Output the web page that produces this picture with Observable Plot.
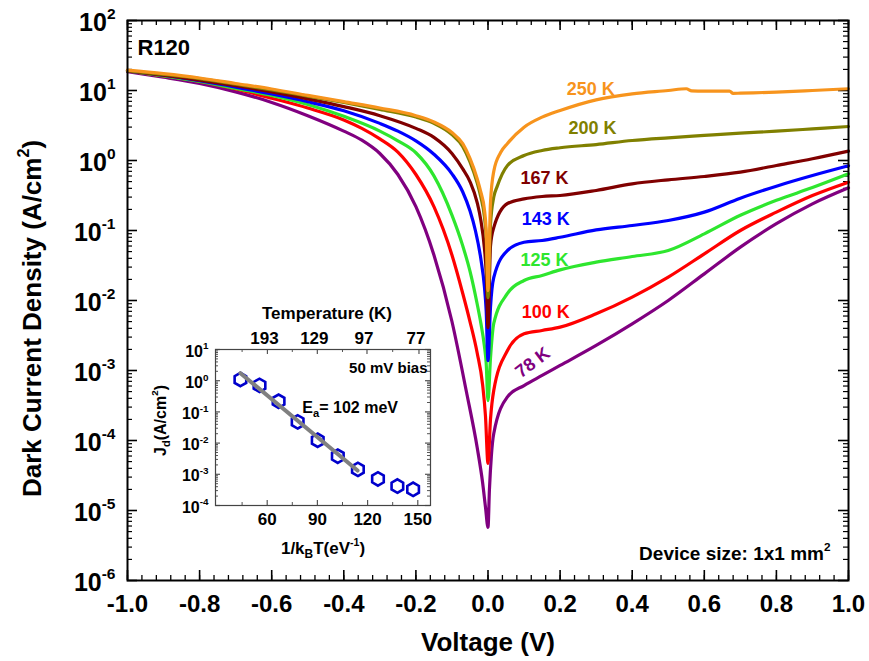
<!DOCTYPE html>
<html>
<head>
<meta charset="utf-8">
<script src="https://cdn.jsdelivr.net/npm/d3@7"></script>
<script src="https://cdn.jsdelivr.net/npm/@observablehq/plot@0.6"></script>
<style>
  body { margin: 0; background: #fff; }
  #wrap { position: relative; width: 869px; height: 661px; overflow: hidden; }
  #inset { position: absolute; left: 140px; top: 290px; }
</style>
</head>
<body>
<div id="wrap"><div id="main"></div><div id="inset"></div></div>
<script>
// ---------------- data ----------------
const seriesNames = ["78 K", "100 K", "125 K", "143 K", "167 K", "200 K", "250 K"];
const seriesColors = ["#800080", "#FF0000", "#2EE62E", "#0000FF", "#800000", "#808000", "#F7941D"];

const V78 = [-1.0, -0.9, -0.8, -0.7, -0.6, -0.5, -0.4, -0.35, -0.3, -0.25, -0.2, -0.15, -0.1, -0.06, -0.03, -0.015, -0.007, 0, 0.004, 0.0093, 0.016, 0.054, 0.1, 0.15, 0.2, 0.3, 0.4, 0.5, 0.6, 0.7, 0.8, 0.9, 1.0];
const J78 = [18.6, 15.5, 12.6, 9.55, 6.76, 4.37, 2.63, 1.95, 1.26, 0.631, 0.219, 0.0447, 5.01e-3, 5.01e-4, 7.94e-5, 2.51e-5, 1.12e-5, 5.75e-6, 2.0e-5, 6.0e-5, 1.26e-4, 4.2e-4, 6.1e-4, 8.5e-4, 1.18e-3, 2.28e-3, 4.64e-3, 0.01, 0.024, 0.0578, 0.125, 0.24, 0.407];

const V100 = [-1.0, -0.9, -0.8, -0.7, -0.6, -0.5, -0.4, -0.35, -0.3, -0.25, -0.2, -0.15, -0.1, -0.07, -0.05, -0.03, -0.015, -0.007, 0, 0.0069, 0.016, 0.054, 0.1, 0.15, 0.2, 0.3, 0.4, 0.5, 0.6, 0.7, 0.8, 0.9, 1.0];
const J100 = [19.1, 16.2, 13.5, 10.5, 7.76, 5.62, 3.80, 2.88, 2.04, 1.32, 0.631, 0.219, 0.0447, 0.0126, 5.01e-3, 1.78e-3, 6.31e-4, 2.24e-4, 4.7e-5, 2e-4, 5.2e-4, 1.93e-3, 3.34e-3, 3.73e-3, 4.16e-3, 6.45e-3, 0.0112, 0.0216, 0.0464, 0.1, 0.183, 0.316, 0.49];

const V125 = [-1.0, -0.9, -0.8, -0.7, -0.6, -0.5, -0.4, -0.3, -0.25, -0.2, -0.15, -0.1, -0.07, -0.05, -0.03, -0.02, -0.01, -0.005, 0, 0.0069, 0.016, 0.054, 0.1, 0.15, 0.2, 0.3, 0.4, 0.5, 0.6, 0.7, 0.8, 0.9, 1.0];
const J125 = [19.1, 16.2, 13.5, 10.7, 8.51, 6.31, 4.27, 2.63, 1.91, 1.29, 0.603, 0.166, 0.0603, 0.0263, 8.91e-3, 4.79e-3, 2.24e-3, 1.26e-3, 3.7e-4, 1.5e-3, 4.7e-3, 0.0126, 0.0193, 0.0228, 0.0274, 0.0353, 0.0425, 0.0518, 0.0896, 0.165, 0.27, 0.41, 0.645];

const V143 = [-1.0, -0.9, -0.8, -0.7, -0.6, -0.5, -0.4, -0.3, -0.25, -0.2, -0.15, -0.1, -0.07, -0.05, -0.035, -0.02, -0.01, -0.005, 0, 0.0069, 0.016, 0.054, 0.1, 0.15, 0.2, 0.3, 0.4, 0.5, 0.6, 0.7, 0.8, 0.9, 1.0];
const J143 = [19.1, 16.6, 13.8, 11.2, 8.91, 6.92, 5.13, 3.39, 2.63, 1.91, 1.23, 0.646, 0.355, 0.191, 0.1, 0.0398, 0.0158, 7.08e-3, 1.38e-3, 8e-3, 0.0213, 0.0518, 0.068, 0.072, 0.08, 0.102, 0.118, 0.139, 0.183, 0.29, 0.43, 0.61, 0.84];

const V167 = [-1.0, -0.9, -0.8, -0.7, -0.6, -0.5, -0.4, -0.3, -0.2, -0.15, -0.1, -0.07, -0.05, -0.03, -0.02, -0.01, -0.005, 0, 0.0069, 0.016, 0.054, 0.1, 0.15, 0.2, 0.3, 0.4, 0.5, 0.6, 0.7, 0.8, 0.9, 1.0];
const J167 = [19.1, 16.6, 14.1, 11.7, 9.55, 7.59, 5.89, 4.37, 2.88, 2.14, 1.26, 0.759, 0.501, 0.251, 0.141, 0.0562, 0.0251, 4.1e-3, 0.06, 0.11, 0.243, 0.283, 0.306, 0.316, 0.373, 0.464, 0.53, 0.591, 0.681, 0.849, 1.06, 1.36];

const V200 = [-1.0, -0.9, -0.8, -0.7, -0.6, -0.5, -0.4, -0.3, -0.2, -0.15, -0.1, -0.07, -0.05, -0.03, -0.02, -0.01, -0.005, 0, 0.0069, 0.016, 0.025, 0.054, 0.1, 0.15, 0.2, 0.3, 0.4, 0.5, 0.6, 0.7, 0.8, 0.9, 1.0];
const J200 = [19.1, 17.0, 14.8, 12.3, 10.2, 8.32, 6.76, 5.37, 4.17, 3.39, 2.34, 1.58, 0.955, 0.479, 0.302, 0.158, 0.079, 0.011, 0.12, 0.3, 0.42, 0.85, 1.18, 1.39, 1.52, 1.69, 1.93, 2.11, 2.28, 2.46, 2.62, 2.83, 3.06];

const V250 = [-1.0, -0.9, -0.8, -0.7, -0.6, -0.5, -0.4, -0.3, -0.2, -0.15, -0.1, -0.07, -0.05, -0.03, -0.02, -0.01, -0.005, 0, 0.0069, 0.016, 0.035, 0.054, 0.1, 0.15, 0.2, 0.3, 0.4, 0.5, 0.55, 0.565, 0.6, 0.67, 0.68, 0.7, 0.8, 0.9, 1.0];
const J250 = [19.5, 17.4, 15.1, 12.6, 10.5, 8.51, 6.92, 5.62, 4.37, 3.55, 2.51, 1.74, 1.07, 0.55, 0.355, 0.20, 0.10, 0.0138, 0.25, 0.7, 1.3, 1.75, 2.99, 4.16, 5.18, 7.36, 8.96, 10.0, 10.6, 9.9, 9.8, 9.8, 9.1, 9.16, 9.47, 10.0, 10.6];

const xTicks = [-1.0, -0.8, -0.6, -0.4, -0.2, 0.0, 0.2, 0.4, 0.6, 0.8, 1.0];
const yTicks = [1e-6, 1e-5, 1e-4, 1e-3, 1e-2, 1e-1, 1e0, 1e1, 1e2];

// inset: Jd at 50 mV bias vs 1/kBT
const invKT = [44.0, 55.4, 66.8, 78.2, 90.2, 102.2, 114.2, 126.2, 137.8, 147.2];
const Jd50 = [1.09, 0.71, 0.22, 0.048, 0.0123, 0.0038, 0.00144, 7.1e-4, 4.2e-4, 3.3e-4];
const fitInvKT = [44, 114];
const fitJd = [1.74, 1.32e-3];
const insetXTicks = [60, 90, 120, 150];
const insetYTicks = [1e-4, 1e-3, 1e-2, 1e-1, 1e0, 1e1];
const tempTicks = [193, 129, 97, 77];
const kB = 8.617e-5; // eV/K

// ---------------- helpers ----------------
const FONT = "'Liberation Sans', Arial, Helvetica, sans-serif";
const seriesV = [V78, V100, V125, V143, V167, V200, V250];
const seriesJ = [J78, J100, J125, J143, J167, J200, J250];

function minorLog(decades) {
  const out = [];
  for (let i = 0; i < decades.length - 1; i++)
    for (let k = 2; k <= 9; k++) out.push(decades[i] * k);
  return out;
}
function expLabel(d) { return "10^{" + Math.round(Math.log10(d)) + "}"; }

// converts ^{..} and _{..} markup of the rendered texts into tspans
function richText(root) {
  const NS = "http://www.w3.org/2000/svg";
  root.querySelectorAll("text").forEach(el => {
    const t = el.textContent;
    if (!/[\^_]\{/.test(t)) return;
    const parts = t.split(/(\^\{[^}]*\}|_\{[^}]*\})/).filter(s => s.length);
    while (el.firstChild) el.removeChild(el.firstChild);
    let off = 0;
    for (const p of parts) {
      let txt = p, target = 0, ratio = 1;
      if (p.startsWith("^{")) { txt = p.slice(2, -1); target = -0.45; ratio = 0.62; }
      else if (p.startsWith("_{")) { txt = p.slice(2, -1); target = 0.25; ratio = 0.7; }
      const ts = document.createElementNS(NS, "tspan");
      ts.textContent = txt;
      if (ratio !== 1) ts.setAttribute("font-size", (ratio * 100) + "%");
      const delta = target - off;
      if (delta !== 0) ts.setAttribute("dy", (delta / ratio).toFixed(3) + "em");
      off = target;
      el.appendChild(ts);
    }
  });
}

// ---------------- main chart ----------------
const W = 869, H = 661, ML = 127, MR = 21, MT = 20, MB = 81;
const PW = W - ML - MR, PH = H - MT - MB;
const xMinor = d3.range(-1, 1.0001, 0.04);
const yMinor = minorLog(yTicks);

const lineMarks = seriesNames.map((name, i) =>
  Plot.line(seriesV[i].map((v, k) => ({V: v, J: seriesJ[i][k]})), {
    x: "V", y: "J", stroke: seriesColors[i], strokeWidth: 3.2, curve: "monotone-x"
  })
);

const labelSpots = [
  {name: "250 K", V: 0.285, J: 10.5, rot: 0},
  {name: "200 K", V: 0.290, J: 2.87, rot: 0},
  {name: "167 K", V: 0.157, J: 0.553, rot: 0},
  {name: "143 K", V: 0.160, J: 0.146, rot: 0},
  {name: "125 K", V: 0.157, J: 0.0373, rot: 0},
  {name: "100 K", V: 0.160, J: 6.85e-3, rot: 0},
  {name: "78 K", V: 0.124, J: 1.3e-3, rot: -37}
];
const labelMarks = labelSpots.map(l =>
  Plot.text([l], {
    x: "V", y: "J", text: "name", fill: seriesColors[seriesNames.indexOf(l.name)],
    fontSize: 18, fontWeight: "bold", fontFamily: FONT, rotate: l.rot,
    textAnchor: "middle", lineAnchor: "middle"
  })
);

const main = Plot.plot({
  width: W, height: H,
  marginLeft: ML, marginRight: MR, marginTop: MT, marginBottom: MB,
  style: {background: "white", fontFamily: FONT, color: "black"},
  x: {type: "linear", domain: [-1, 1], axis: null},
  y: {type: "log", domain: [1e-6, 1e2], axis: null},
  marks: [
    Plot.ruleX(xMinor, {x: d => d, insetTop: PH - 5, strokeWidth: 1.3}),
    Plot.ruleX(xTicks, {x: d => d, insetTop: PH - 10, strokeWidth: 1.6}),
    Plot.ruleX(xMinor, {x: d => d, insetBottom: PH - 5, strokeWidth: 1.3}),
    Plot.ruleX(xTicks, {x: d => d, insetBottom: PH - 10, strokeWidth: 1.6}),
    Plot.ruleY(yMinor, {y: d => d, insetRight: PW - 5, strokeWidth: 1.2}),
    Plot.ruleY(yTicks, {y: d => d, insetRight: PW - 10, strokeWidth: 1.6}),
    Plot.ruleY(yMinor, {y: d => d, insetLeft: PW - 5, strokeWidth: 1.2}),
    Plot.ruleY(yTicks, {y: d => d, insetLeft: PW - 10, strokeWidth: 1.6}),
    ...lineMarks,
    Plot.frame({stroke: "black", strokeWidth: 2}),
    ...labelMarks,
    Plot.text(xTicks, {x: d => d, frameAnchor: "bottom", dy: 14, lineAnchor: "top",
      text: d => d.toFixed(1), fontSize: 24, fontWeight: "bold", fontFamily: FONT}),
    Plot.text(yTicks, {y: d => d, frameAnchor: "left", dx: -12, dy: 2, textAnchor: "end",
      lineAnchor: "middle", text: expLabel, fontSize: 25, fontWeight: "bold", fontFamily: FONT}),
    Plot.text(["Voltage (V)"], {frameAnchor: "bottom", dy: 70, lineAnchor: "bottom", textAnchor: "middle",
      text: d => d, fontSize: 26, fontWeight: "bold", fontFamily: FONT}),
    Plot.text(["Dark Current Density (A/cm^{2})"], {frameAnchor: "left", dx: -95, dy: 18,
      rotate: -90, textAnchor: "middle", lineAnchor: "middle", text: d => d, fontSize: 26, fontWeight: "bold", fontFamily: FONT}),
    Plot.text(["R120"], {frameAnchor: "top-left", dx: 10, dy: 19, lineAnchor: "top",
      textAnchor: "start", text: d => d, fontSize: 22, fontWeight: "bold", fontFamily: FONT}),
    Plot.text(["Device size: 1x1 mm^{2}"], {frameAnchor: "bottom-right", dx: -18, dy: -21,
      lineAnchor: "bottom", textAnchor: "end", text: d => d, fontSize: 19, fontWeight: "bold", fontFamily: FONT})
  ]
});
document.getElementById("main").appendChild(main);
richText(main);

// ---------------- inset ----------------
const IW = 300, IH = 275, IML = 75, IMR = 10, IMT = 59, IMB = 60;
const IPW = IW - IML - IMR, IPH = IH - IMT - IMB;
const iyMinor = minorLog(insetYTicks);
const ixMinor = [45, 75, 105, 135];
const tempPos = tempTicks.map(T => ({T, x: 1 / (kB * T)}));

const inset = Plot.plot({
  width: IW, height: IH,
  marginLeft: IML, marginRight: IMR, marginTop: IMT, marginBottom: IMB,
  style: {background: "transparent", fontFamily: FONT, color: "black", overflow: "visible"},
  x: {type: "linear", domain: [29.1, 157.6], axis: null},
  y: {type: "log", domain: [1e-4, 1e1], axis: null},
  marks: [
    Plot.ruleY(iyMinor, {y: d => d, insetRight: IPW - 3, stroke: "#555", strokeWidth: 1}),
    Plot.ruleY(insetYTicks, {y: d => d, insetRight: IPW - 5, stroke: "#555", strokeWidth: 1.2}),
    Plot.ruleY(iyMinor, {y: d => d, insetLeft: IPW - 3, stroke: "#555", strokeWidth: 1}),
    Plot.ruleY(insetYTicks, {y: d => d, insetLeft: IPW - 5, stroke: "#555", strokeWidth: 1.2}),
    Plot.ruleX(ixMinor, {x: d => d, insetTop: IPH - 3, stroke: "#555", strokeWidth: 1}),
    Plot.ruleX(insetXTicks, {x: d => d, insetTop: IPH - 5, stroke: "#555", strokeWidth: 1.2}),
    Plot.ruleX(ixMinor, {x: d => d, insetBottom: IPH - 3, stroke: "#555", strokeWidth: 1}),
    Plot.ruleX(tempPos, {x: "x", insetBottom: IPH - 5, stroke: "#555", strokeWidth: 1.2}),
    Plot.frame({stroke: "#444", strokeWidth: 1.2}),
    Plot.dot(invKT.map((x, i) => ({x, y: Jd50[i]})), {x: "x", y: "y", symbol: "hexagon", r: 5.8,
      stroke: "#0000CC", strokeWidth: 2.6, fill: "none"}),
    Plot.line(fitInvKT.map((x, i) => ({x, y: fitJd[i]})), {x: "x", y: "y", stroke: "#808080", strokeWidth: 4}),
    Plot.text(insetYTicks, {y: d => d, frameAnchor: "left", dx: -7, dy: 2, textAnchor: "end",
      lineAnchor: "middle", text: expLabel, fontSize: 16, fontWeight: "bold", fontFamily: FONT}),
    Plot.text(insetXTicks, {x: d => d, frameAnchor: "bottom", dy: 7, lineAnchor: "top",
      text: d => String(d), fontSize: 17, fontWeight: "bold", fontFamily: FONT}),
    Plot.text(tempPos, {x: "x", frameAnchor: "top", dy: -6, dx: -3, lineAnchor: "bottom",
      text: d => String(d.T), fontSize: 17, fontWeight: "bold", fontFamily: FONT}),
    Plot.text(["Temperature (K)"], {frameAnchor: "top", dx: 4, dy: -31, lineAnchor: "bottom", textAnchor: "middle",
      text: d => d, fontSize: 17, fontWeight: "bold", fontFamily: FONT}),
    Plot.text(["1/k_{B}T(eV^{-1})"], {frameAnchor: "bottom", dy: 48, lineAnchor: "bottom", textAnchor: "middle",
      text: d => d, fontSize: 17, fontWeight: "bold", fontFamily: FONT}),
    Plot.text(["J_{d}(A/cm^{2})"], {frameAnchor: "left", dx: -55, dy: -7, rotate: -90, textAnchor: "middle",
      lineAnchor: "middle", text: d => d, fontSize: 16, fontWeight: "bold", fontFamily: FONT}),
    Plot.text(["50 mV bias"], {frameAnchor: "top-right", dx: -3, dy: 23, lineAnchor: "bottom",
      textAnchor: "end", text: d => d, fontSize: 15, fontWeight: "bold", fontFamily: FONT}),
    Plot.text([{x: 81, y: 0.089}], {x: "x", y: "y", text: () => "E_{a}= 102 meV", textAnchor: "start",
      lineAnchor: "bottom", fontSize: 16, fontWeight: "bold", fontFamily: FONT})
  ]
});
document.getElementById("inset").appendChild(inset);
richText(inset);
</script>
</body>
</html>
